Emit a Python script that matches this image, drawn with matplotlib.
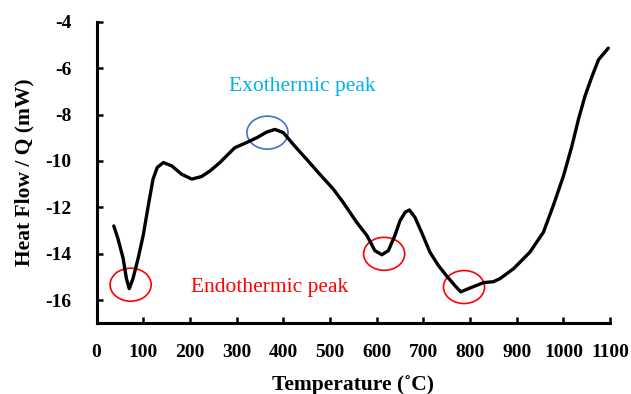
import matplotlib
matplotlib.use('Agg')
import matplotlib.pyplot as plt
from matplotlib.patches import Ellipse

# DSC curve
temperature = [37, 46, 57, 64, 70, 78, 89, 100, 111, 121, 130, 143, 161, 182, 204, 225,
               243, 264, 271, 296, 321, 343, 364, 382, 400, 421, 450, 478, 507, 528, 557,
               579, 596, 611, 625, 639, 650, 661, 670, 682, 696, 714, 732, 750, 768, 780,
               800, 829, 850, 864, 893, 928, 957, 978, 1000, 1018, 1032, 1046, 1061, 1075,
               1096]
heat_flow = [-12.8, -13.36, -14.2, -15.07, -15.5, -15.07, -14.2, -13.2, -11.9, -10.78, -10.28,
             -10.07, -10.21, -10.57, -10.78, -10.67, -10.43, -10.07, -9.93, -9.43, -9.21, -9.0,
             -8.76, -8.64, -8.78, -9.28, -9.93, -10.57, -11.21, -11.78, -12.64, -13.21, -13.86,
             -14.04, -13.86, -13.21, -12.57, -12.21, -12.11, -12.43, -13.07, -13.93, -14.5,
             -14.96, -15.38, -15.64, -15.47, -15.24, -15.2, -15.07, -14.64, -13.93, -13.07,
             -11.93, -10.64, -9.36, -8.21, -7.21, -6.36, -5.64, -5.14]

# circled peaks: (temperature, heat flow, colour)
peak_marks = [(73, -15.33, 'red'), (366, -8.78, '#4472C4'),
              (616, -14.0, 'red'), (787, -15.43, 'red')]

x_ticks = list(range(0, 1101, 100))
y_ticks = list(range(-16, -3, 2))

plt.rcParams['axes.unicode_minus'] = False
plt.rcParams['font.family'] = 'Liberation Serif'

fig = plt.figure(figsize=(6.31, 3.94), dpi=100)
ax = fig.add_axes([0.153, 0.179, 0.814, 0.766])

ax.plot(temperature, heat_flow, color='black', lw=2.4, solid_capstyle='round',
        solid_joinstyle='round')

for t, q, c in peak_marks:
    ax.add_patch(Ellipse((t, q), 88, 1.42, fill=False, edgecolor=c, lw=1.2))

ax.text(283, -6.8, 'Exothermic peak', color='#00B0F0', fontsize=15.5, va='center')
ax.text(202, -15.43, 'Endothermic peak', color='red', fontsize=15.5, va='center')

ax.set_xlim(0, 1100)
ax.set_ylim(-17, -4)
ax.set_xticks(x_ticks)
ax.set_yticks(y_ticks)
ax.tick_params(direction='in', length=4, width=1.8, labelsize=14)
ax.tick_params(axis='x', pad=15)
ax.tick_params(axis='y', pad=18)
for lab in ax.get_xticklabels() + ax.get_yticklabels():
    lab.set_fontweight('bold')

for side in ['top', 'right']:
    ax.spines[side].set_visible(False)
for side in ['left', 'bottom']:
    ax.spines[side].set_linewidth(2.2)

ax.set_xlabel('Temperature (˚C)', fontsize=15.5, fontweight='bold', labelpad=10)
ax.set_ylabel('Heat Flow / Q (mW)', fontsize=15.5, fontweight='bold', labelpad=8)

fig.savefig('out.png', dpi=100)
